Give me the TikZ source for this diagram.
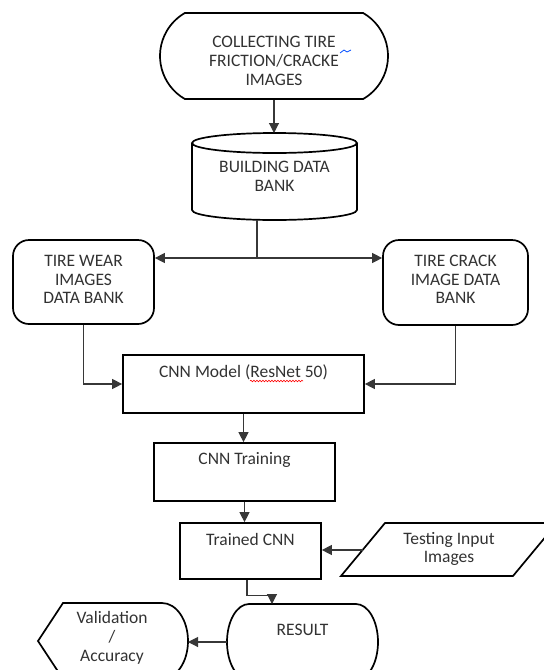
\documentclass[tikz,border=0pt]{standalone}
\usepackage{fontspec}
\setmainfont{Carlito}
\usetikzlibrary{arrows.meta,shapes.misc,decorations.pathmorphing}
\definecolor{txtc}{RGB}{50,50,50}
\definecolor{linec}{RGB}{55,55,55}
\begin{document}
\begin{tikzpicture}[x=1pt,y=1pt,
  txt/.style={text=txtc,font=\fontsize{17.5}{18.8}\selectfont,align=center,inner sep=0pt},
  shapebox/.style={draw=black,line width=1.7pt},
  conn/.style={draw=linec,line width=1.1pt},
  arr/.style={conn,-{Triangle[length=10pt,width=10pt]}},
  area/.style={inner sep=0pt,outer sep=0pt}
]
\clip (0,0) rectangle (544,-670);

% top terminal
\node[shapebox,rounded rectangle,rounded rectangle arc length=120,minimum width=228pt,minimum height=86pt,inner sep=0pt] (collect) at (274,-56) {};
\node[txt] (collecttxt) at (274,-61) {COLLECTING TIRE\\FRICTION/CRACKE\\IMAGES};
\draw[blue!70!cyan,line width=0.8pt] (340,-53) -- (344,-50) -- (347,-52) -- (351,-50);

% cylinder
\node[area,minimum width=165pt,minimum height=87pt] (bank) at (274.5,-176.5) {};
\draw[shapebox] (192,-143) -- (192,-210) arc[start angle=180,end angle=360,x radius=82.5,y radius=10] -- (357,-143);
\draw[shapebox] (274.5,-143) ellipse[x radius=82.5,y radius=10];
\node[txt] (banktxt) at (274.5,-176) {BUILDING DATA\\BANK};
\draw[arr] (collect.south) -- (collect.south |- bank.north);

% data banks
\node[shapebox,rounded corners=16pt,minimum width=141pt,minimum height=84pt] (wear) at (83.5,-282) {};
\node[txt] (weartxt) at (83.5,-279.5) {TIRE WEAR\\IMAGES\\DATA BANK};
\node[shapebox,rounded corners=16pt,minimum width=145pt,minimum height=85pt] (crack) at (455.5,-282.5) {};
\node[txt] (cracktxt) at (455.5,-279.5) {TIRE CRACK\\IMAGE DATA\\BANK};

\coordinate (split) at (257,-258);
\draw[conn] (split |- bank.south) -- (split);
\draw[arr] (split) -- (split -| wear.east);
\draw[arr] (split) -- (split -| crack.west);

% CNN model
\node[shapebox,minimum width=241pt,minimum height=58pt] (cnn) at (243.5,-384) {};
\node[txt] (cnntxt) at (243.5,-372) {CNN Model (ResNet 50)};
\draw[red,line width=0.6pt,decorate,decoration={snake,amplitude=0.8pt,segment length=3pt}] (250,-381) -- (303,-381);
\draw[arr] (wear.south) |- (cnn.west);
\draw[arr] (crack.south) |- (cnn.east);

% CNN training
\node[shapebox,minimum width=181pt,minimum height=58pt] (train) at (244.5,-472) {};
\node[txt] (traintxt) at (244.5,-460) {CNN Training};
\draw[arr] (cnn.south) -- (cnn.south |- train.north);

% trained CNN
\node[shapebox,minimum width=141pt,minimum height=56pt] (trained) at (250.5,-551) {};
\node[txt] (trainedtxt) at (250.5,-539) {Trained CNN};
\draw[arr] (train.south) -- (train.south |- trained.north);

% testing input
\draw[shapebox] (341,-576) -- (385,-523) -- (557,-523) -- (513,-576) -- cycle;
\node[txt] (test) at (449,-549) {Testing Input\\Images};
\coordinate (testin) at (363,-550);
\draw[arr] (testin) -- (testin -| trained.east);

% result
\node[area,minimum width=151pt,minimum height=76pt] (result) at (302.5,-642) {};
\draw[shapebox] (249,-604) -- (356,-604) arc[start angle=90,end angle=-90,x radius=22,y radius=38] -- (249,-680) arc[start angle=270,end angle=90,x radius=22,y radius=38] -- cycle;
\node[txt] (restxt) at (302.5,-630) {RESULT};
\coordinate (rin) at (272,-604);
\draw[arr] ([xshift=-3.5pt]trained.south) -- ++(0,-16) -| (rin);

% validation
\node[area,minimum width=150pt,minimum height=76pt] (valid) at (113,-641) {};
\draw[shapebox] (38,-641) -- (63,-603) -- (162,-603) arc[start angle=90,end angle=-90,x radius=26,y radius=38] -- (63,-679) -- cycle;
\node[txt] (vtxt) at (112,-638) {Validation\\/\\Accuracy};
\draw[arr] (result.west) -- (result.west -| valid.east);
\end{tikzpicture}
\end{document}
